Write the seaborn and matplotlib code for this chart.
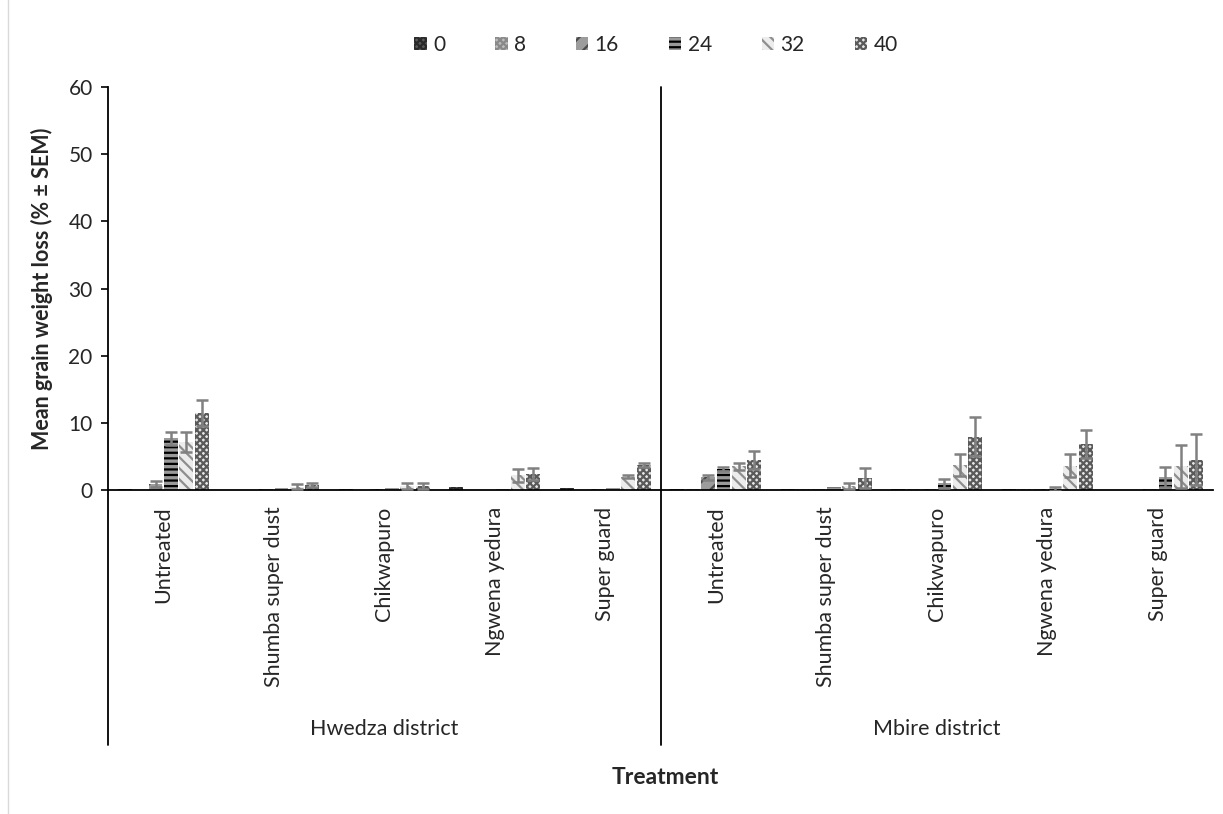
import matplotlib
matplotlib.use("Agg")
import matplotlib.pyplot as plt
from matplotlib.patches import Patch
from matplotlib.lines import Line2D
import matplotlib.transforms as mtransforms
import seaborn as sns
import pandas as pd
import numpy as np

# ---------------- data ----------------
treatments = ["Untreated", "Shumba super dust", "Chikwapuro", "Ngwena yedura", "Super guard"]
districts = ["Hwedza district", "Mbire district"]
weeks = ["0", "8", "16", "24", "32", "40"]

# mean grain weight loss (%) per treatment, columns = weeks 0..40
hwedza_mean = [
    [0.2, 0.05, 0.9, 7.7, 7.1, 11.5],
    [0.05, 0.05, 0.2, 0.3, 0.5, 0.8],
    [0.2, 0.05, 0.1, 0.3, 0.6, 0.6],
    [0.4, 0.05, 0.05, 0.2, 2.2, 2.4],
    [0.3, 0.05, 0.1, 0.3, 2.0, 3.7],
]
hwedza_sem = [
    [0.0, 0.0, 0.4, 1.0, 1.5, 1.9],
    [0.0, 0.0, 0.0, 0.0, 0.4, 0.3],
    [0.0, 0.0, 0.0, 0.0, 0.5, 0.5],
    [0.0, 0.0, 0.0, 0.0, 1.0, 0.9],
    [0.0, 0.0, 0.0, 0.0, 0.2, 0.3],
]
mbire_mean = [
    [0.2, 0.2, 1.9, 3.1, 3.5, 4.5],
    [0.1, 0.1, 0.1, 0.4, 0.6, 1.8],
    [0.1, 0.1, 0.1, 1.0, 3.7, 7.9],
    [0.1, 0.1, 0.1, 0.2, 3.6, 6.8],
    [0.05, 0.05, 0.1, 1.9, 3.5, 4.5],
]
mbire_sem = [
    [0.0, 0.0, 0.4, 0.3, 0.5, 1.3],
    [0.0, 0.0, 0.0, 0.0, 0.4, 1.5],
    [0.0, 0.0, 0.0, 0.7, 1.6, 2.9],
    [0.0, 0.0, 0.0, 0.3, 1.7, 2.1],
    [0.0, 0.0, 0.0, 1.5, 3.2, 3.8],
]

# ---------------- styles ----------------
face_colors = ["#5a5a5a", "#bdbdbd", "#9c9c9c", "#9a9a9a", "#ececec", "#e6e6e6"]
hatch_colors = ["#2a2a2a", "#8a8a8a", "#4a4a4a", "#000000", "#8e8e8e", "#5a5a5a"]
hatches = ["xxxxx", "xxxxx", "//", "---", "\\\\\\", "xxxxx"]

# ---------------- build long table ----------------
rows = []
for d, means, sems in [(districts[0], hwedza_mean, hwedza_sem), (districts[1], mbire_mean, mbire_sem)]:
    for t, mrow, srow in zip(treatments, means, sems):
        for w, m, s in zip(weeks, mrow, srow):
            rows.append({"cat": f"{d}|{t}", "district": d, "treatment": t,
                         "week": w, "mean": m, "sem": s})
df = pd.DataFrame(rows)
cat_order = [f"{d}|{t}" for d in districts for t in treatments]

sns.set_style("white")
plt.rcParams["font.family"] = ["Lato", "DejaVu Sans"]
plt.rcParams["hatch.linewidth"] = 1.6

fig = plt.figure(figsize=(12.23, 8.14), dpi=100)
ax = fig.add_axes([108 / 1223, 1 - 490 / 814, (1213 - 108) / 1223, (490 - 87) / 814])

sns.barplot(data=df, x="cat", y="mean", hue="week", order=cat_order, hue_order=weeks,
            errorbar=None, width=0.84, gap=0.1, palette=face_colors, ax=ax,
            legend=False, saturation=1)

bar_containers = list(ax.containers)
for i, cont in enumerate(bar_containers):
    sub = df[df["week"] == weeks[i]].set_index("cat").loc[cat_order]
    xs, hs = [], []
    for bar in cont:
        bar.set_facecolor(face_colors[i])
        bar.set_edgecolor(hatch_colors[i])
        bar.set_hatch(hatches[i])
        bar.set_linewidth(0)
        xs.append(bar.get_x() + bar.get_width() / 2)
        hs.append(bar.get_height())
    errs = sub["sem"].to_numpy()
    mask = errs > 0
    ax.errorbar(np.array(xs)[mask], np.array(hs)[mask], yerr=errs[mask], fmt="none",
                ecolor="#808080", elinewidth=1.8, capsize=4.5, capthick=1.8, zorder=5)

# ---------------- axes styling ----------------
ax.set_ylim(0, 60)
ax.set_xlim(-0.5, 9.5)
ax.set_yticks(range(0, 61, 10))
ax.tick_params(axis="y", labelsize=15, length=5, width=1.2, direction="out", color="black", left=True, pad=6)
ax.set_xticks(range(10))
ax.set_xticklabels(treatments * 2, rotation=90, fontsize=15.5, va="top")
ax.tick_params(axis="x", length=0, pad=12)
for s in ["top", "right"]:
    ax.spines[s].set_visible(False)
for s in ["left", "bottom"]:
    ax.spines[s].set_color("black")
    ax.spines[s].set_linewidth(1.3)
ax.set_xlabel("")
ax.set_ylabel("Mean grain weight loss (% ± SEM)", fontsize=15.5, fontweight="bold", labelpad=11)

# multi-level category axis
trans = mtransforms.blended_transform_factory(ax.transData, ax.transAxes)
bottom_y = (490 - 745) / 403
ax.add_line(Line2D([-0.5, -0.5], [0, bottom_y], transform=trans, color="black", lw=1.3, clip_on=False))
ax.add_line(Line2D([4.5, 4.5], [1, bottom_y], transform=trans, color="black", lw=1.3, clip_on=False))
dist_y = (490 - 729) / 403
ax.text(2, dist_y, districts[0], transform=trans, ha="center", va="center", fontsize=15.5)
ax.text(7, dist_y, districts[1], transform=trans, ha="center", va="center", fontsize=15.5)

fig.text(665 / 1223, 1 - 778 / 814, "Treatment", ha="center", va="center", fontsize=16.5, fontweight="bold")

# legend
handles = [Patch(facecolor=face_colors[i], edgecolor=hatch_colors[i], hatch=hatches[i], lw=0, label=w)
           for i, w in enumerate(weeks)]
fig.legend(handles=handles, loc="center", bbox_to_anchor=(656 / 1223, 1 - 45 / 814), ncol=6,
           frameon=False, fontsize=15, handlelength=0.6, handleheight=0.6,
           handletextpad=0.3, columnspacing=2.4)

# light outer frame line on the left
fig.add_artist(Line2D([8 / 1223, 8 / 1223], [0, 1], transform=fig.transFigure, color="#d9d9d9", lw=1))

fig.savefig("out.png", dpi=100)
